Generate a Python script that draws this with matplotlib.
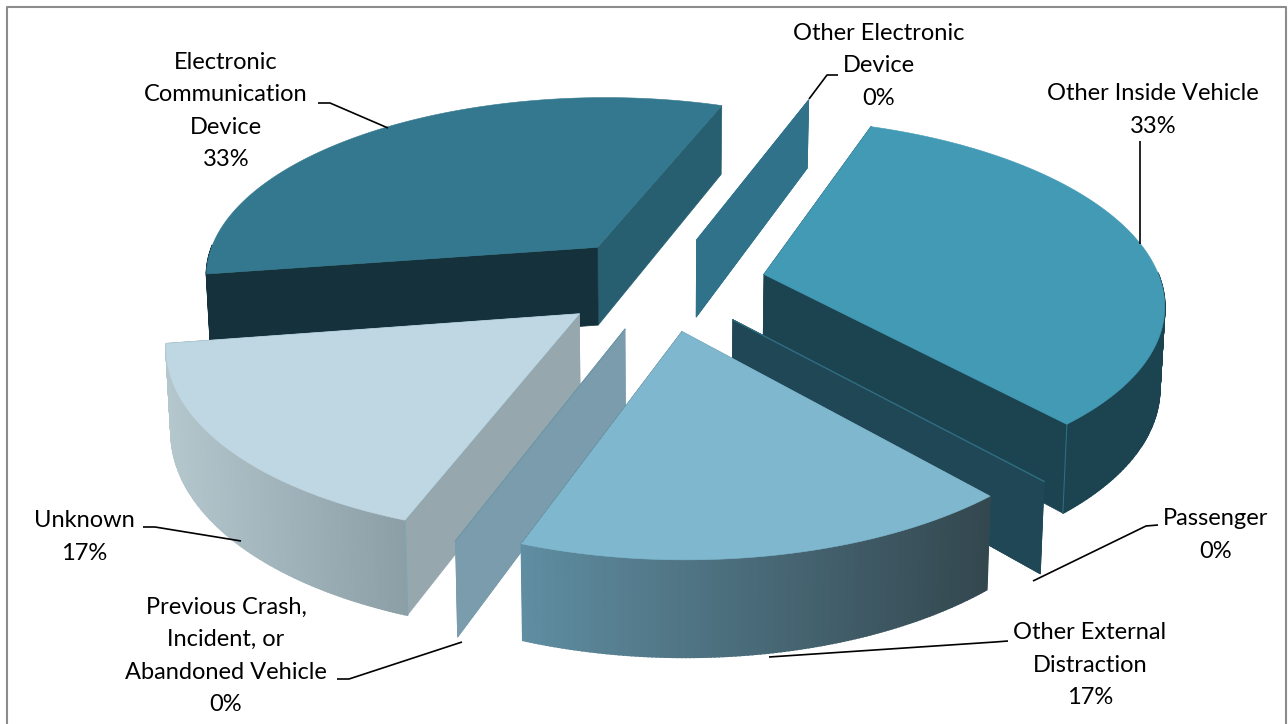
import numpy as np
import matplotlib
matplotlib.use('Agg')
import matplotlib.pyplot as plt

# data, clockwise from the top
categories = ['Other Electronic\nDevice', 'Other Inside Vehicle', 'Passenger',
              'Other External\nDistraction', 'Previous Crash,\nIncident, or\nAbandoned Vehicle',
              'Unknown', 'Electronic\nCommunication\nDevice']
shares = [0, 33, 0, 17, 0, 17, 33]

# colours of each slice
top_colors = ['#2f7289', '#429ab5', '#1f4756', '#7fb8ce', '#7a9cad', '#bfd7e2', '#33788e']
start_face_colors = ['#2f7289', '#1b4350', '#1f4756', '#5f8da1', '#7a9cad', '#96a7ae', '#15323c']
end_face_colors = ['#2f7289', '#1b4350', '#1f4756', '#33474f', '#7a9cad', '#96a7ae', '#275f70']
wall_left = ['#2f7289', '#1b4350', '#1f4756', '#5f8da1', '#7a9cad', '#b4c7cd', '#15323c']
wall_right = ['#2f7289', '#1b4350', '#1f4756', '#33474f', '#7a9cad', '#8c9fa7', '#15323c']
seams = [None, '#2f6d80', '#2f6d80', None, '#6f98aa', '#7fa5b5', None]

label_pos = [(879, 66), (1153, 110), (1216, 535), (1090, 665), (226, 656), (84, 537), (226, 111)]
leaders = [[(809, 99), (827, 75), (838, 75)],
           [(1140, 244), (1140, 141)],
           [(1033, 581), (1146, 526), (1158, 525)],
           [(769, 657), (995, 642), (1008, 641)],
           [(462, 642), (349, 679), (337, 679)],
           [(241, 541), (155, 527), (143, 527)],
           [(388, 128), (330, 103), (318, 103)]]

# pie geometry, in pixels
start_angle = -70.0
center_x, center_y = 662, 283
scale_x, scale_y = 418, 190
persp = 0.15
explode = 0.25
radius = 0.95
depth = 80
line_gap = 32.5

plt.rcParams['font.family'] = ['Lato', 'DejaVu Sans']

fig = plt.figure(figsize=(12.88, 7.24), dpi=100)
ax = fig.add_axes([0, 0, 1, 1])
ax.set_xlim(0, 1288)
ax.set_ylim(724, 0)
ax.axis('off')


def project(u, v, low=False):
    '''plane coordinates to screen, low=True for the bottom of the pie'''
    den = 1 - persp * v
    x = center_x + scale_x * u / den
    y = center_y + scale_y * v / den
    if low:
        x = center_x + (x - center_x) * 0.99
        y = y + depth / den
    return x, y


def lerp_color(c1, c2, f):
    a = np.array(matplotlib.colors.to_rgb(c1))
    b = np.array(matplotlib.colors.to_rgb(c2))
    return tuple(a + (b - a) * f)


def draw_slice(i, a0, a1, base):
    mid = np.radians((a0 + a1) / 2)
    ou, ov = explode * np.cos(mid), explode * np.sin(mid)
    angles = np.radians(np.linspace(a0, a1, max(int(a1 - a0) * 2, 1) + 1))
    rim_u = ou + radius * np.cos(angles)
    rim_v = ov + radius * np.sin(angles)

    # the two straight faces
    for k, col in ((-1, end_face_colors[i]), (0, start_face_colors[i])):
        pts = [project(ou, ov), project(rim_u[k], rim_v[k]),
               project(rim_u[k], rim_v[k], True), project(ou, ov, True)]
        ax.fill(*zip(*pts), color=col, lw=0.5, zorder=base)
        if seams[i]:
            ax.plot(*zip(*pts[:2]), color=seams[i], lw=0.8, zorder=base + 1)

    if a1 <= a0:
        return

    # outer wall, cut in small pieces for the gradient
    vis = [j for j in range(len(angles) - 1) if np.sin(angles[j]) > -0.01]
    xs = [project(rim_u[j], rim_v[j])[0] for j in vis]
    for j in vis:
        pts = [project(rim_u[j], rim_v[j]), project(rim_u[j + 1], rim_v[j + 1]),
               project(rim_u[j + 1], rim_v[j + 1], True), project(rim_u[j], rim_v[j], True)]
        f = (pts[0][0] - min(xs)) / max(max(xs) - min(xs), 1)
        col = lerp_color(wall_left[i], wall_right[i], f)
        ax.fill(*zip(*pts), color=col, ec=col, lw=1.2, zorder=base + 1)

    # corner between wall and face
    if seams[i]:
        for k in (0, -1):
            if np.sin(angles[k]) > 0.5:
                ax.plot(*zip(project(rim_u[k], rim_v[k]), project(rim_u[k], rim_v[k], True)),
                        color=seams[i], lw=0.8, zorder=base + 1)

    # top of the slice
    pts = [project(ou, ov)] + [project(u, v) for u, v in zip(rim_u, rim_v)]
    ax.fill(*zip(*pts), color=top_colors[i], lw=0.4, zorder=base + 2)


# far slices first, near slices on top of them
order = [6, 0, 1, 2, 5, 4, 3]
edges = start_angle + np.cumsum([0] + shares) * 360.0 / sum(shares)
for rank, i in enumerate(order):
    draw_slice(i, edges[i], edges[i + 1], rank * 3 + 1)

# labels with leader lines
for name, share, pos, line in zip(categories, shares, label_pos, leaders):
    ax.plot(*zip(*line), color='black', lw=1.2, zorder=40, solid_capstyle='butt')
    lines = (name + '\n' + str(share) + '%').split('\n')
    for n, txt in enumerate(lines):
        y = pos[1] + (n - (len(lines) - 1) / 2) * line_gap
        ax.text(pos[0], y, txt, ha='center', va='center', fontsize=17, color='black', zorder=41)

# chart frame
ax.plot([7, 7, 1286, 1286], [724, 7, 7, 724], color='#8c8c8c', lw=1.5, zorder=50)

fig.savefig('out.png', dpi=100)
